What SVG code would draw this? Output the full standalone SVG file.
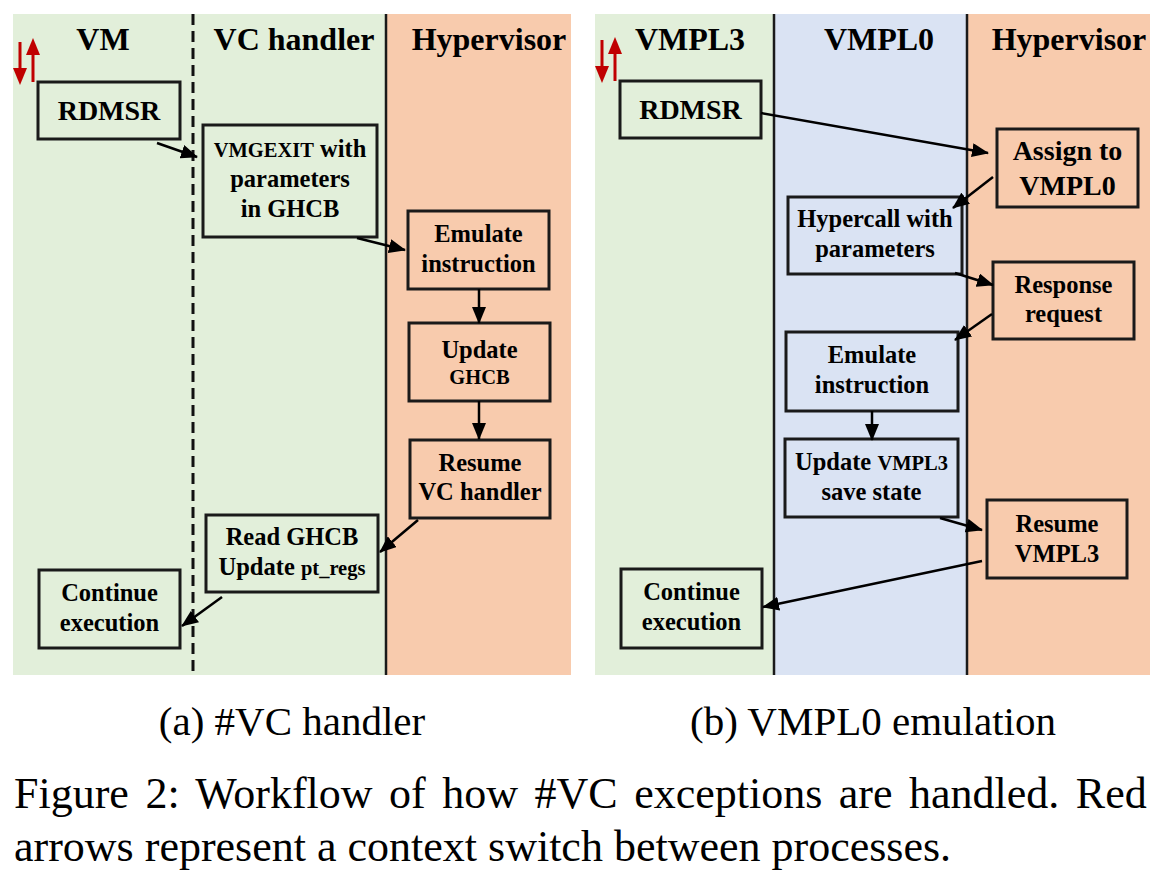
<svg xmlns="http://www.w3.org/2000/svg" width="1164" height="888" viewBox="0 0 1164 888">
<style>
.bg{stroke:none}
.g{fill:#E2EFDA}
.o{fill:#F8CBAD}
.b{fill:#DAE3F3}
.box{stroke:#1a1a1a;stroke-width:3}
.lane{stroke:#1a1a1a;stroke-width:2.5;fill:none}
.dash{stroke:#111;stroke-width:3;fill:none;stroke-dasharray:11 6}
.t{font-family:"Liberation Serif","Times New Roman",serif;font-weight:bold;fill:#000;text-anchor:middle}
.h{font-size:32px}
.m{font-size:24.5px}
.l{font-size:28px}
.s{font-size:20.5px}
.cap{font-family:"Liberation Serif","Times New Roman",serif;fill:#000}
.con line{stroke:#000;stroke-width:2.5;marker-end:url(#ah)}
.red{stroke:#C00000;stroke-width:3;fill:none}
</style>
<defs>
<marker id="ah" markerUnits="userSpaceOnUse" markerWidth="17" markerHeight="14" viewBox="0 0 17 14" refX="16" refY="7" orient="auto">
<path d="M0,0 L17,7 L0,14 Z" fill="#000"/>
</marker>
</defs>
<rect width="1164" height="888" fill="#fff"/>

<!-- Panel (a) backgrounds -->
<g id="panel-a-bg">
<rect class="bg g" x="13" y="14" width="373" height="661"/>
<rect class="bg o" x="386" y="14" width="185" height="661"/>
<line class="dash" x1="193" y1="14" x2="193" y2="675"/>
<line class="lane" x1="386" y1="14" x2="386" y2="675"/>
<text class="t h" x="103" y="50">VM</text>
<text class="t h" x="294" y="50">VC handler</text>
<text class="t h" x="489" y="50">Hypervisor</text>
</g>

<!-- Panel (b) backgrounds -->
<g id="panel-b-bg">
<rect class="bg g" x="595" y="14" width="179" height="661"/>
<rect class="bg b" x="774" y="14" width="193" height="661"/>
<rect class="bg o" x="967" y="14" width="183" height="661"/>
<line class="lane" x1="774" y1="14" x2="774" y2="675"/>
<line class="lane" x1="967" y1="14" x2="967" y2="675"/>
<text class="t h" x="690" y="50">VMPL3</text>
<text class="t h" x="879" y="50">VMPL0</text>
<text class="t h" x="1069" y="50">Hypervisor</text>
</g>

<!-- Red context-switch arrows -->
<g id="ctx-a">
<line class="red" x1="20" y1="42" x2="20" y2="70"/>
<path d="M13,68 L27,68 L20,85 Z" fill="#C00000"/>
<line class="red" x1="33" y1="82" x2="33" y2="54"/>
<path d="M26,55 L40,55 L33,38 Z" fill="#C00000"/>
</g>
<g id="ctx-b">
<line class="red" x1="602" y1="40" x2="602" y2="68"/>
<path d="M595,66 L609,66 L602,83 Z" fill="#C00000"/>
<line class="red" x1="615" y1="81" x2="615" y2="53"/>
<path d="M608,54 L622,54 L615,37 Z" fill="#C00000"/>
</g>

<!-- Panel (a) nodes -->
<g id="a-rdmsr">
<rect class="box g" x="38" y="82" width="142" height="57"/>
<text class="t l" x="109" y="120">RDMSR</text>
</g>
<g id="a-vmgexit">
<rect class="box g" x="203" y="125" width="174" height="112"/>
<text class="t m" x="290" y="157"><tspan class="s">VMGEXIT</tspan> with</text>
<text class="t m" x="290" y="187">parameters</text>
<text class="t m" x="290" y="217">in GHCB</text>
</g>
<g id="a-emulate">
<rect class="box o" x="408" y="211" width="141" height="78"/>
<text class="t m" x="478.5" y="242">Emulate</text>
<text class="t m" x="478.5" y="272">instruction</text>
</g>
<g id="a-update">
<rect class="box o" x="409" y="323" width="141" height="78"/>
<text class="t m" x="479.5" y="358">Update</text>
<text class="t s" x="479.5" y="384">GHCB</text>
</g>
<g id="a-resume">
<rect class="box o" x="410" y="440" width="140" height="78"/>
<text class="t m" x="480" y="471">Resume</text>
<text class="t m" x="480" y="500">VC handler</text>
</g>
<g id="a-read">
<rect class="box g" x="206" y="515" width="172" height="77"/>
<text class="t m" x="292" y="545">Read GHCB</text>
<text class="t m" x="292" y="575">Update <tspan class="s">pt_regs</tspan></text>
</g>
<g id="a-continue">
<rect class="box g" x="39" y="570" width="141" height="78"/>
<text class="t m" x="109.5" y="601">Continue</text>
<text class="t m" x="109.5" y="631">execution</text>
</g>

<!-- Panel (b) nodes -->
<g id="b-rdmsr">
<rect class="box g" x="620" y="81" width="141" height="57"/>
<text class="t l" x="690.5" y="119">RDMSR</text>
</g>
<g id="b-assign">
<rect class="box o" x="997" y="129" width="141" height="78"/>
<text class="t l" x="1067.5" y="160">Assign to</text>
<text class="t l" x="1067.5" y="195">VMPL0</text>
</g>
<g id="b-hypercall">
<rect class="box b" x="788" y="197" width="174" height="77"/>
<text class="t m" x="875" y="227">Hypercall with</text>
<text class="t m" x="875" y="257">parameters</text>
</g>
<g id="b-response">
<rect class="box o" x="993" y="262" width="141" height="77"/>
<text class="t m" x="1063.5" y="293">Response</text>
<text class="t m" x="1063.5" y="322">request</text>
</g>
<g id="b-emulate">
<rect class="box b" x="786" y="332" width="172" height="79"/>
<text class="t m" x="872" y="363">Emulate</text>
<text class="t m" x="872" y="393">instruction</text>
</g>
<g id="b-update">
<rect class="box b" x="785" y="439" width="173" height="78"/>
<text class="t m" x="871.5" y="470">Update <tspan class="s">VMPL3</tspan></text>
<text class="t m" x="871.5" y="500">save state</text>
</g>
<g id="b-resume">
<rect class="box o" x="987" y="500" width="140" height="78"/>
<text class="t m" x="1057" y="532">Resume</text>
<text class="t m" x="1057" y="562">VMPL3</text>
</g>
<g id="b-continue">
<rect class="box g" x="621" y="569" width="141" height="79"/>
<text class="t m" x="691.5" y="600">Continue</text>
<text class="t m" x="691.5" y="630">execution</text>
</g>

<!-- Connectors -->
<g id="connectors" class="con">
<line x1="157" y1="143" x2="197" y2="157"/>
<line x1="357" y1="238" x2="405" y2="250"/>
<line x1="479" y1="289" x2="479" y2="323"/>
<line x1="479" y1="401" x2="479" y2="439"/>
<line x1="418" y1="520" x2="380" y2="552"/>
<line x1="222" y1="597" x2="182" y2="626"/>
<line x1="761" y1="113" x2="988" y2="153"/>
<line x1="993" y1="177" x2="953" y2="208"/>
<line x1="955" y1="273" x2="993" y2="285"/>
<line x1="992" y1="314" x2="955" y2="340"/>
<line x1="872" y1="411" x2="872" y2="440"/>
<line x1="940" y1="518" x2="982" y2="530"/>
<line x1="982" y1="561" x2="763" y2="607"/>
</g>

<!-- Captions -->
<g id="captions">
<text class="cap" x="292" y="735" font-size="41" text-anchor="middle">(a) #VC handler</text>
<text class="cap" x="873" y="735" font-size="41" text-anchor="middle">(b) VMPL0 emulation</text>
<text class="cap" x="14" y="808" font-size="44" word-spacing="5.5">Figure 2: Workflow of how #VC exceptions are handled. Red</text>
<text class="cap" x="14" y="861" font-size="44">arrows represent a context switch between processes.</text>
</g>
</svg>
